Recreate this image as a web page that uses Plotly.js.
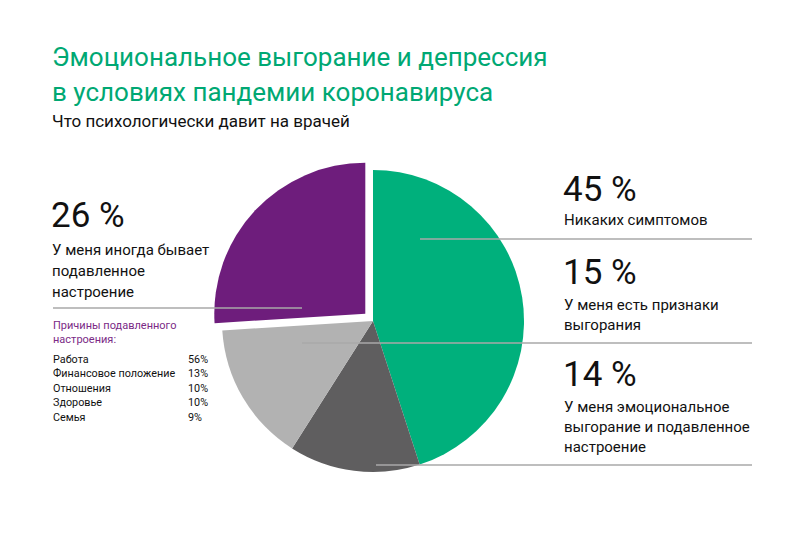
<!DOCTYPE html>
<html>
<head>
<meta charset="utf-8">
<script src="https://cdn.plot.ly/plotly-3.0.1.min.js"></script>
<style>html,body{margin:0;padding:0;background:#fff;}#chart{width:800px;height:544px;}</style>
</head>
<body>
<div id="chart"></div>
<script>
// Data
var sliceLabels = ["Никаких симптомов", "У меня эмоциональное выгорание и подавленное настроение", "У меня есть признаки выгорания", "У меня иногда бывает подавленное настроение"];
var sliceValues = [45, 14, 15, 26];
var sliceColors = ["#00B07C", "#5F5E5F", "#B2B2B2", "#6E1D7C"];
var slicePull = [0, 0, 0, 0.07];

var reasonLabels = ["Работа", "Финансовое положение", "Отношения", "Здоровье", "Семья"];
var reasonValues = [56, 13, 10, 10, 9];

var titleLine1 = "Эмоциональное выгорание и депрессия";
var titleLine2 = "в условиях пандемии коронавируса";
var subtitle = "Что психологически давит на врачей";
var leftLines = ["У меня иногда бывает", "подавленное", "настроение"];
var purpleLines = ["Причины подавленного", "настроения:"];
var r1Lines = ["Никаких симптомов"];
var r2Lines = ["У меня есть признаки", "выгорания"];
var r3Lines = ["У меня эмоциональное", "выгорание и подавленное", "настроение"];

var FONT = "Roboto, Open Sans, sans-serif";
var GREEN = "#00A873";
var PURPLE = "#7B2A86";
var LINE = "#A8A8A8";

var pie = {
  type: "pie",
  labels: sliceLabels,
  values: sliceValues,
  marker: {colors: sliceColors, line: {width: 0}},
  pull: slicePull,
  sort: false,
  direction: "clockwise",
  rotation: 0,
  textinfo: "none",
  hoverinfo: "none",
  showlegend: false,
  domain: {x: [0.26425, 0.66825], y: [0.11294, 0.70699]}
};

function pct(v) { return v + " %"; }

var ann = [];
function txt(x, y, t, size, color) {
  ann.push({xref: "x", yref: "y", x: x, y: y, text: t, showarrow: false,
    xanchor: "left", yanchor: "middle", align: "left",
    font: {family: FONT, size: size, color: color || "#111"}});
}
function lines(x, y0, step, arr, size, color) {
  for (var i = 0; i < arr.length; i++) txt(x, y0 + i * step, arr[i], size, color);
}

txt(50, 57, titleLine1, 26, GREEN);
txt(50, 92, titleLine2, 26, GREEN);
txt(50, 121, subtitle, 17, "#111");

// left block
txt(49, 215, pct(sliceValues[3]), 35, "#111");
lines(50, 250, 21, leftLines, 15, "#111");
lines(51, 325, 14, purpleLines, 11, PURPLE);
for (var i = 0; i < reasonLabels.length; i++) {
  txt(51, 359 + i * 14.6, reasonLabels[i], 10.8, "#111");
  txt(186, 359 + i * 14.6, reasonValues[i] + "%", 10.8, "#111");
}

// right block
txt(561, 189, pct(sliceValues[0]), 35, "#111");
lines(562, 220, 20, r1Lines, 15, "#111");
txt(561, 272, pct(sliceValues[2]), 35, "#111");
lines(562, 305, 20, r2Lines, 15, "#111");
txt(561, 374, pct(sliceValues[1]), 35, "#111");
lines(562, 407, 20, r3Lines, 15, "#111");

function seg(x0, y0, x1, y1) {
  return {type: "line", xref: "x", yref: "y", x0: x0, y0: y0, x1: x1, y1: y1,
    line: {color: LINE, width: 1.6}, layer: "above"};
}
var shapes = [seg(420, 239, 752, 239), seg(302, 343, 752, 343), seg(376, 465, 752, 465), seg(53, 308, 302, 308)];

var layout = {
  width: 800, height: 544,
  margin: {l: 0, r: 0, t: 0, b: 0},
  paper_bgcolor: "#fff", plot_bgcolor: "rgba(0,0,0,0)",
  xaxis: {range: [0, 800], visible: false, fixedrange: true},
  yaxis: {range: [544, 0], visible: false, fixedrange: true},
  annotations: ann,
  shapes: shapes,
  showlegend: false
};

Plotly.newPlot("chart", [pie], layout, {displayModeBar: false, staticPlot: true});
</script>
</body>
</html>
